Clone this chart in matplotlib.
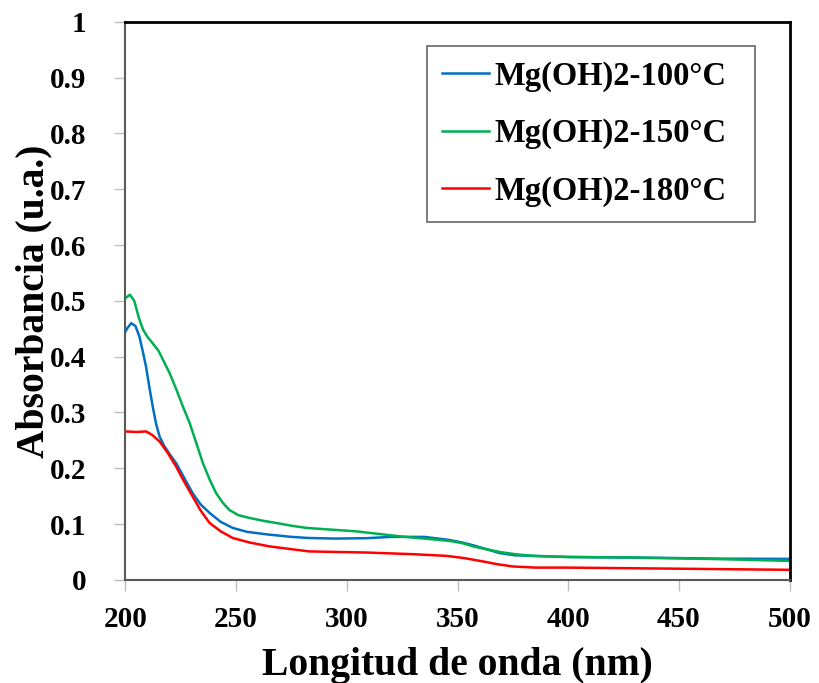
import numpy as np
import matplotlib.pyplot as plt

# UV-Vis absorbance spectra of Mg(OH)2 synthesised at three temperatures
wl_100 = [200, 201, 202.6, 204.5, 206.3, 207.8, 209.3, 210.8, 212.3, 213.8, 215.4, 217.5,
          220, 222.9, 226.5, 230.4, 234, 238, 243, 248.5, 255, 265, 275, 283, 295, 308.8,
          320, 335, 346, 352, 357, 363, 369, 376, 384, 400, 430, 470, 500]
abs_100 = [0.445, 0.452, 0.460, 0.455, 0.436, 0.410, 0.382, 0.345, 0.311, 0.280, 0.257, 0.240,
           0.225, 0.209, 0.183, 0.155, 0.135, 0.120, 0.104, 0.093, 0.086, 0.081, 0.077, 0.075,
           0.074, 0.0747, 0.077, 0.077, 0.0717, 0.067, 0.062, 0.055, 0.048, 0.044, 0.043,
           0.041, 0.040, 0.038, 0.0376]

wl_150 = [200, 202, 204, 206, 208, 210, 212.3, 215, 217, 220, 223, 226, 229, 232, 235, 238,
          241, 244, 247, 251, 256, 262, 268, 275, 282, 304, 324, 346, 352, 357, 363, 369,
          376, 384, 400, 429, 470, 500]
abs_150 = [0.505, 0.511, 0.500, 0.470, 0.448, 0.435, 0.424, 0.410, 0.394, 0.370, 0.341, 0.310,
           0.281, 0.245, 0.209, 0.180, 0.155, 0.138, 0.125, 0.116, 0.111, 0.106, 0.102, 0.097,
           0.093, 0.087, 0.078, 0.070, 0.066, 0.060, 0.055, 0.050, 0.046, 0.043, 0.041, 0.040,
           0.037, 0.034]

wl_180 = [200, 205, 209.3, 212, 215.4, 219, 222.9, 226.5, 230.4, 234, 238, 243, 248.5, 256,
          265, 275, 283, 295, 308.8, 330, 345, 353, 361.5, 368, 375, 385, 399, 450, 500]
abs_180 = [0.266, 0.265, 0.266, 0.260, 0.248, 0.228, 0.203, 0.176, 0.149, 0.124, 0.102, 0.087,
           0.075, 0.067, 0.060, 0.055, 0.051, 0.050, 0.049, 0.046, 0.043, 0.039, 0.033, 0.028,
           0.024, 0.022, 0.022, 0.020, 0.018]

labels = ['Mg(OH)2-100°C', 'Mg(OH)2-150°C', 'Mg(OH)2-180°C']
colors = ['#0070C0', '#00B050', '#FF0000']

plt.rcParams['font.family'] = 'Liberation Serif'
plt.rcParams['font.weight'] = 'bold'

fig = plt.figure(figsize=(8.2, 6.83), dpi=100)
ax = fig.add_axes([0.153, 0.151, 0.810, 0.817])

series = [(wl_100, abs_100), (wl_150, abs_150), (wl_180, abs_180)]
for (x, y), lab, c in zip(series, labels, colors):
    ax.plot(x, y, color=c, lw=1.8, label=lab, solid_joinstyle='round')

ax.set_xlim(200, 500)
ax.set_ylim(0, 1)
ax.set_xticks(np.arange(200, 501, 50))
ax.set_yticks(np.arange(0, 1.01, 0.1))
ax.set_yticklabels(['0', '0.1', '0.2', '0.3', '0.4', '0.5', '0.6', '0.7', '0.8', '0.9', '1'])
ax.tick_params(axis='both', labelsize=21, color='#BFBFBF', length=8, width=1)
ax.tick_params(axis='y', pad=20)
ax.tick_params(axis='x', pad=11)

for side in ['left', 'bottom']:
    ax.spines[side].set_color('#595959')
    ax.spines[side].set_linewidth(1.5)
for side in ['top', 'right']:
    ax.spines[side].set_color('black')
    ax.spines[side].set_linewidth(2)

ax.set_xlabel('Longitud de onda (nm)', fontsize=28.5, fontweight='bold', labelpad=10)
ax.set_ylabel('Absorbancia (u.a.)', fontsize=28.5, fontweight='bold', labelpad=-2)

# legend box stretched to a fixed width, entries left-aligned inside
leg = ax.legend(loc='upper left', bbox_to_anchor=(0.4537, 0.5, 0.4937, 0.457),
                mode='expand', fontsize=23.5, frameon=True, fancybox=False,
                edgecolor='#404040', handlelength=1.45, handletextpad=0.15,
                labelspacing=0.8, borderpad=0.46, borderaxespad=0)
leg.get_frame().set_linewidth(1.2)

fig.savefig('out.png', dpi=100)
